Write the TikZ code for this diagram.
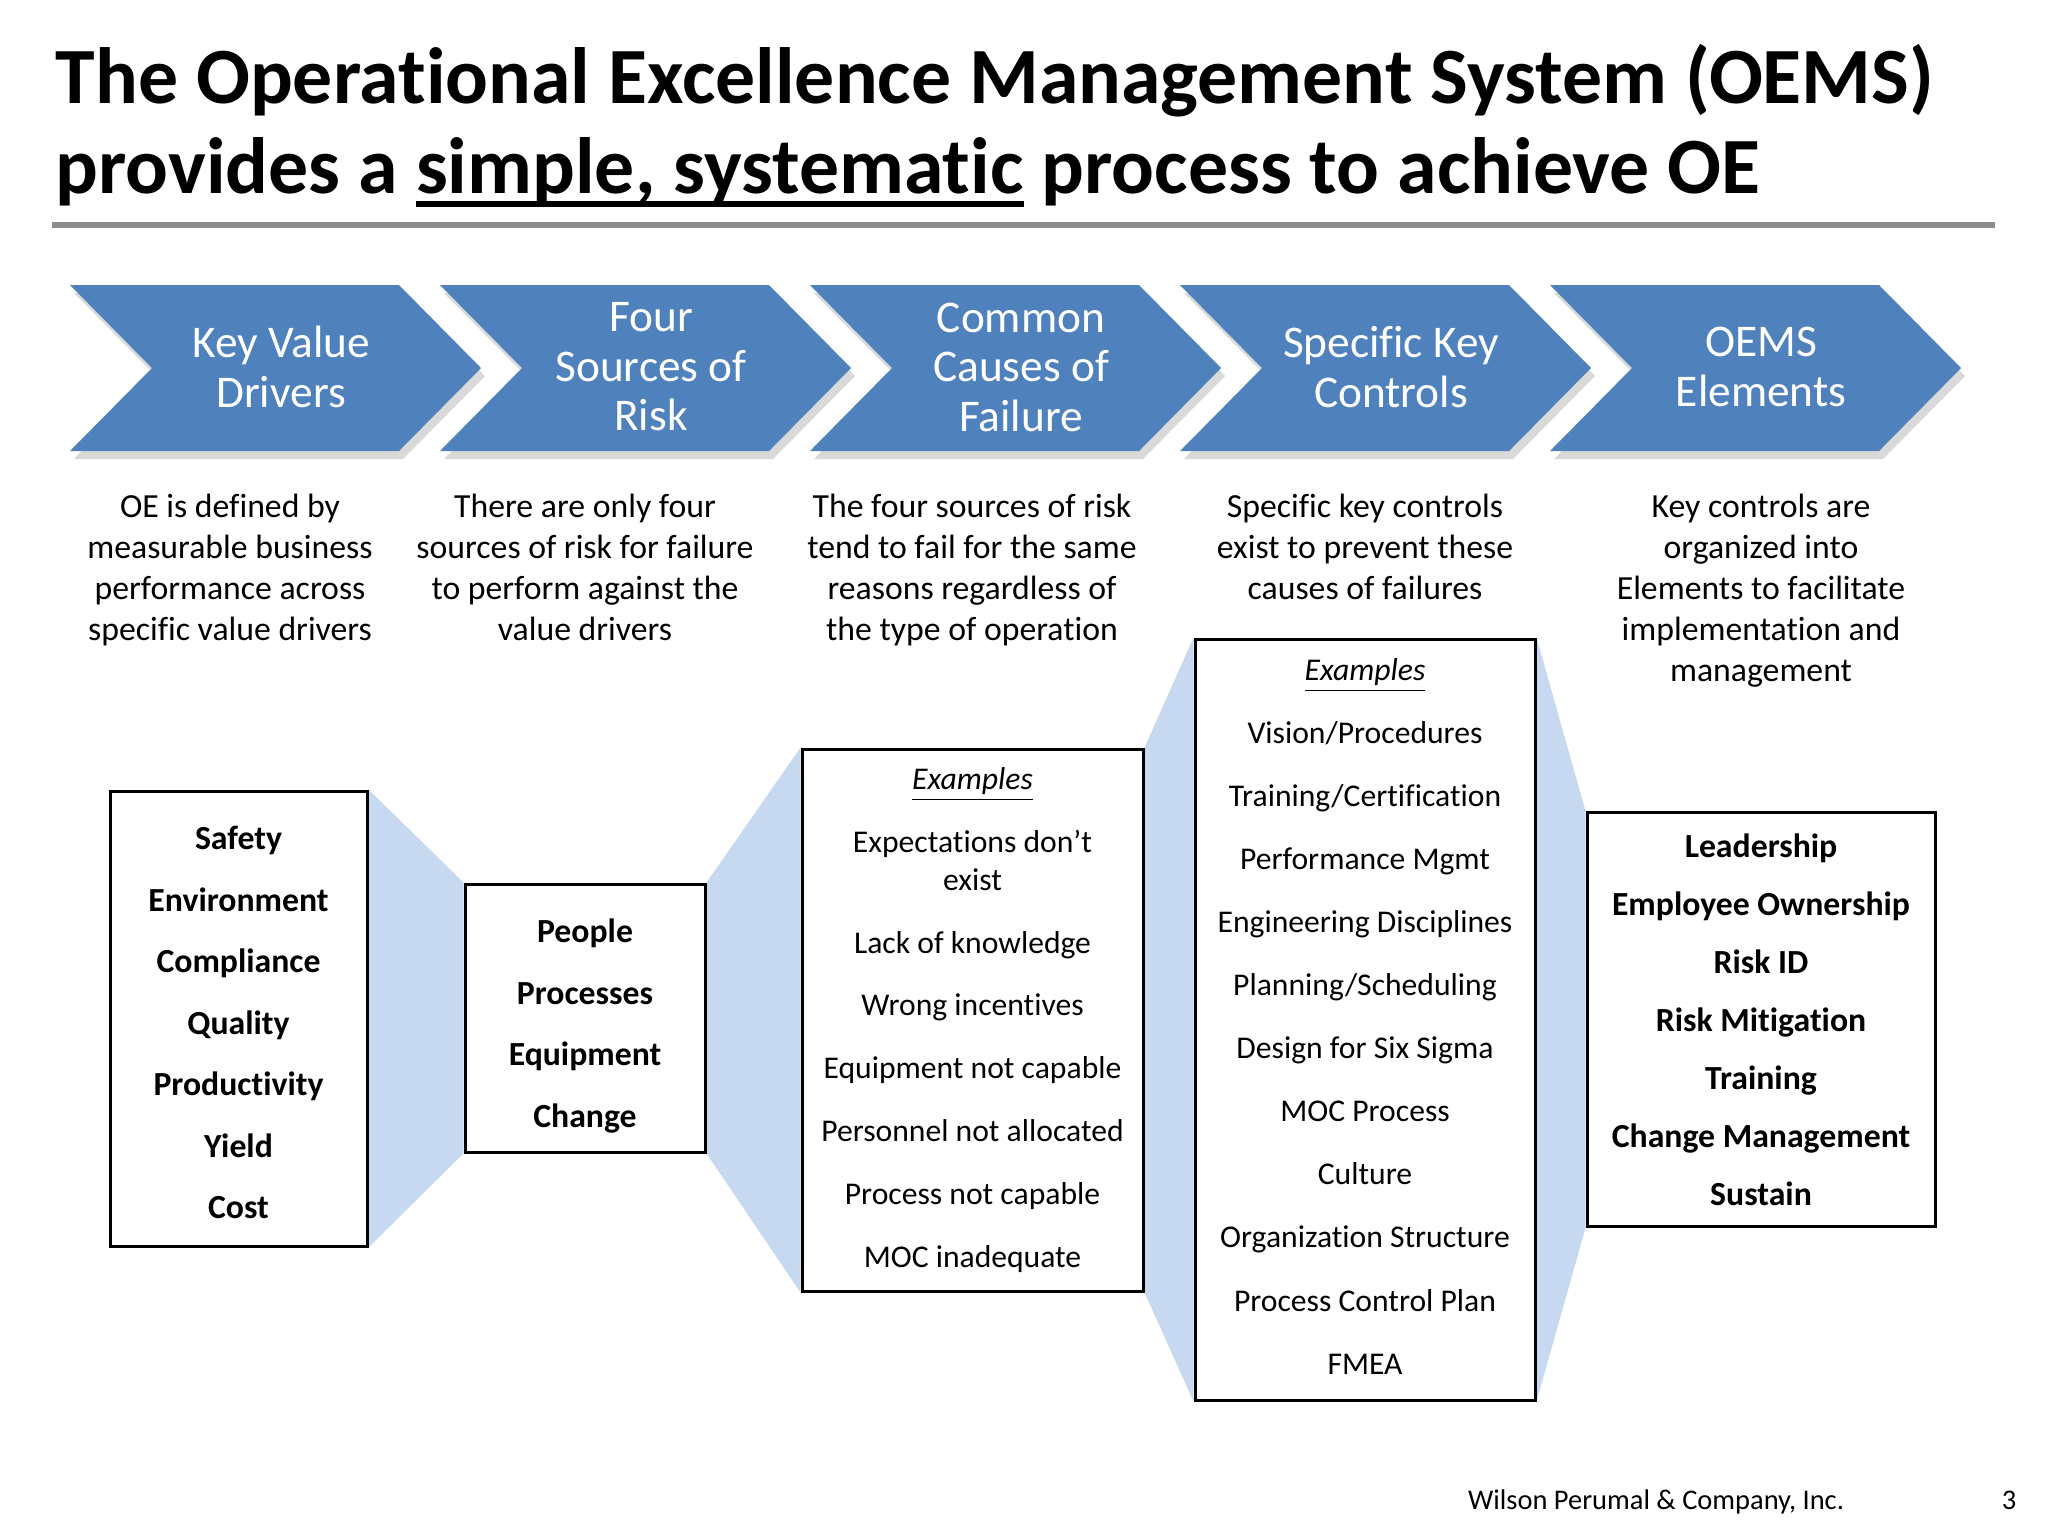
\documentclass[tikz,border=0pt]{standalone}
\usepackage{fontspec}
\setmainfont{Carlito}[Ligatures={TeX,NoCommon}]
\usepackage{tikz}
\usetikzlibrary{backgrounds,shadows}
\definecolor{oeblue}{HTML}{4F81BD}
\definecolor{oefunnel}{HTML}{C6D9F1}
\definecolor{oerule}{HTML}{8C8C8C}
\newcommand{\ulthick}[1]{\setbox0\hbox{#1}\rlap{\rule[-4pt]{\wd0}{1.8pt}}\box0\relax}

\begin{document}
\begin{tikzpicture}[x=0.1mm, y=-0.1mm,
    chevtext/.style={text=white, align=center, font=\fontsize{12.9}{14.1}\selectfont},
    desc/.style={anchor=north, align=center, inner sep=0pt, font=\fontsize{9.6}{11.7}\selectfont},
    listbox/.style={draw, line width=0.3mm, fill=white, align=center, inner sep=0pt}]
      \useasboundingbox (0,0) rectangle (2048,1536);
      % title
      \node[anchor=base west, inner sep=0pt, font=\fontsize{22.7}{26}\bfseries] (title1) at (55,103)
        {The Operational Excellence Management System (OEMS)};
      \node[anchor=base west, inner sep=0pt, font=\fontsize{22.7}{26}\bfseries] (title2) at (55,193)
        {provides a \ulthick{simple, systematic} process to achieve OE};
      \draw[oerule, line width=0.6mm] (52,225) -- (1995,225);
      % chevrons
      \foreach \i/\name/\txt in {0/kvd/{Key Value\\Drivers}, 1/fsr/{Four\\Sources of\\Risk},
          2/ccf/{Common\\Causes of\\Failure}, 3/skc/{Specific Key\\Controls}, 4/oem/{OEMS\\Elements}} {
        \fill[oeblue, drop shadow={opacity=0.3, shadow xshift=0.4mm, shadow yshift=-0.8mm}]
          ({70+370*\i},285) -- ++(329,0) -- ++(82,83) -- ++(-82,83) -- ++(-329,0) -- ++(82,-83) -- cycle;
        \node[chevtext] (\name) at ({70+370*\i+211},367) {\txt};
      }
      % descriptions
      \node[desc] (kvddesc) at (230,493) {OE is defined by\\measurable business\\performance across\\specific value drivers};
      \node[desc] (fsrdesc) at (585,493) {There are only four\\sources of risk for failure\\to perform against the\\value drivers};
      \node[desc] (ccfdesc) at (972,493) {The four sources of risk\\tend to fail for the same\\reasons regardless of\\the type of operation};
      \node[desc] (skcdesc) at (1365,493) {Specific key controls\\exist to prevent these\\causes of failures};
      \node[desc] (oemdesc) at (1761,493) {Key controls are\\organized into\\Elements to facilitate\\implementation and\\management};
      % boxes
      \node[listbox, minimum width=25.7mm, minimum height=45.5mm, font=\fontsize{9.6}{17.5}\selectfont\bfseries]
        (kvdbox) at (238.5,1018.5) {\rule{0pt}{9pt}Safety\\Environment\\Compliance\\Quality\\Productivity\\Yield\\Cost};
      \node[listbox, minimum width=24mm, minimum height=26.8mm, font=\fontsize{9.6}{17.5}\selectfont\bfseries]
        (fsrbox) at (585,1018) {\rule{0pt}{11.3pt}People\\Processes\\Equipment\\Change};
      \node[listbox, minimum width=34.1mm, minimum height=54.2mm, font=\fontsize{9}{17.9}\selectfont]
        (ccfbox) at (972.5,1020) {\underline{\textit{Examples}}\\Expectations don’t\\[-7.1pt]exist\\Lack of knowledge\\
          Wrong incentives\\Equipment not capable\\Personnel not allocated\\Process not capable\\MOC inadequate};
      \node[listbox, minimum width=34mm, minimum height=76.1mm, font=\fontsize{9}{17.95}\selectfont]
        (skcbox) at (1365,1019.5) {\underline{\textit{Examples}}\\Vision/Procedures\\Training/Certification\\
          Performance Mgmt\\Engineering Disciplines\\Planning/Scheduling\\Design for Six Sigma\\MOC Process\\
          Culture\\Organization Structure\\Process Control Plan\\FMEA\rule[-1.9pt]{0pt}{0pt}};
      \node[listbox, minimum width=34.8mm, minimum height=41.4mm, font=\fontsize{9.6}{16.5}\selectfont\bfseries]
        (oembox) at (1761,1019.5) {Leadership\\Employee Ownership\\Risk ID\\Risk Mitigation\\Training\\
          Change Management\\Sustain};
      \begin{pgfonlayer}{background}
        \fill[oefunnel] (kvdbox.north east) -- (fsrbox.north west) -- (fsrbox.south west) -- (kvdbox.south east) -- cycle;
        \fill[oefunnel] (fsrbox.north east) -- (ccfbox.north west) -- (ccfbox.south west) -- (fsrbox.south east) -- cycle;
        \fill[oefunnel] (ccfbox.north east) -- (skcbox.north west) -- (skcbox.south west) -- (ccfbox.south east) -- cycle;
        \fill[oefunnel] (skcbox.north east) -- (oembox.north west) -- (oembox.south west) -- (skcbox.south east) -- cycle;
      \end{pgfonlayer}
      % footer
      \node[anchor=base, font=\fontsize{8.1}{9}\selectfont] (footer) at (1656,1509) {Wilson Perumal \& Company, Inc.};
      \node[anchor=base, font=\fontsize{8.1}{9}\selectfont] (pagenum) at (2009,1509) {3};
    \end{tikzpicture}
\end{document}
